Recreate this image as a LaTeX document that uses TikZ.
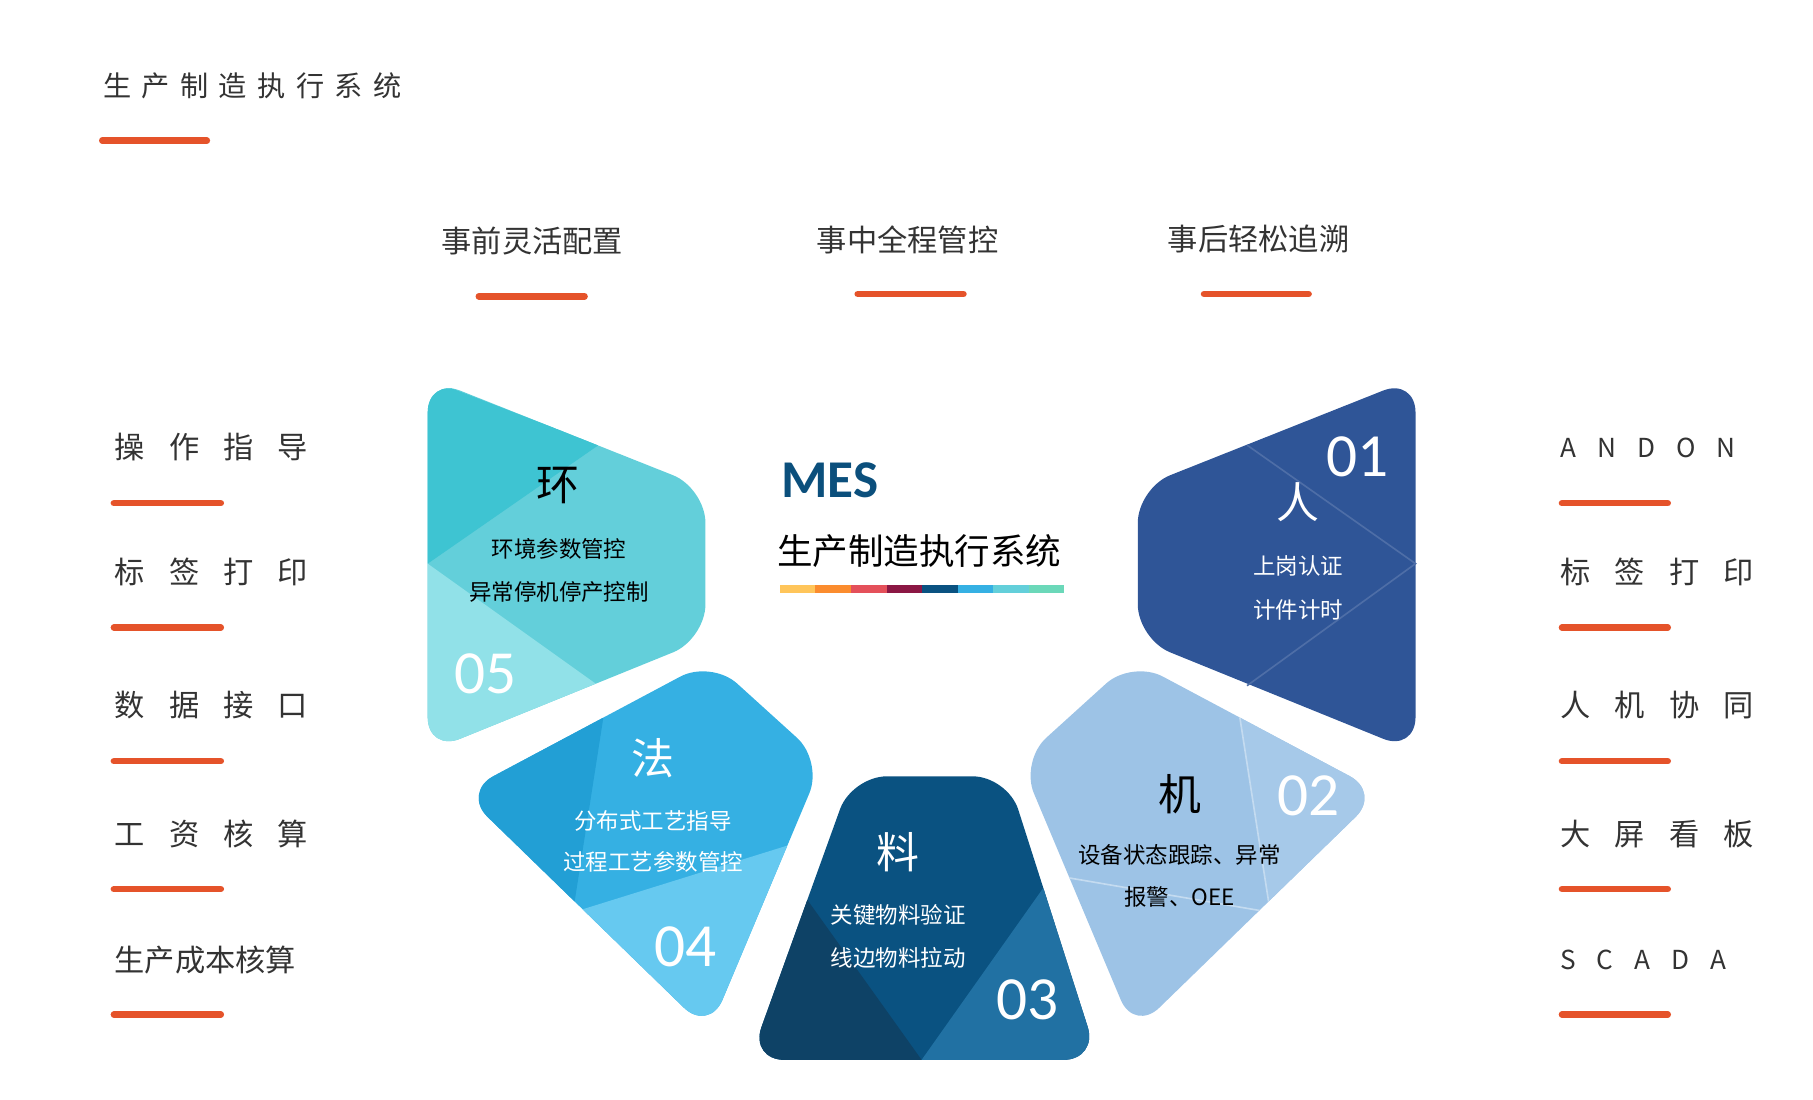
\documentclass[tikz,border=0pt]{standalone}
\usepackage{fontspec}
\setmainfont{Noto Sans CJK SC}
\newfontfamily\spacedA[LetterSpace=80]{Noto Sans CJK SC}
\newfontfamily\spacedB[LetterSpace=37]{Noto Sans CJK SC}
\newfontfamily\numfont{Carlito}
\usetikzlibrary{positioning}
\definecolor{accent}{HTML}{E5532A}
\definecolor{txtgray}{HTML}{333333}
\definecolor{huanMain}{HTML}{63CFDA}
\definecolor{huanDark}{HTML}{3EC4D2}
\definecolor{huanLight}{HTML}{91E1E8}
\definecolor{renMain}{HTML}{2F5597}
\definecolor{faMain}{HTML}{35B0E3}
\definecolor{faDark}{HTML}{229FD5}
\definecolor{faLight}{HTML}{66C9F0}
\definecolor{liaoMain}{HTML}{0A5281}
\definecolor{liaoDark}{HTML}{0E4266}
\definecolor{liaoLight}{HTML}{2171A3}
\definecolor{jiMain}{HTML}{9DC3E6}
\definecolor{jiLight}{HTML}{A6C9E9}
\definecolor{mesblue}{HTML}{0B4F7C}
\begin{document}
\begin{tikzpicture}[x=0.01cm,y=-0.01cm,
  bar/.style={draw=accent,line width=1.6pt,line cap=round},
  head/.style={font=\fontsize{7.4}{8}\selectfont,text=txtgray},
  item/.style={font=\spacedA\fontsize{7.4}{8}\selectfont,text=txtgray,anchor=west,inner sep=0pt},
  big/.style={font=\fontsize{10.5}{11}\selectfont},
  small/.style={font=\fontsize{5.5}{6}\selectfont},
  num/.style={font=\numfont\fontsize{15}{15}\selectfont,text=white},
  tile/.style={rounded corners=0.3cm}]
\useasboundingbox (0,0) rectangle (1560,946);

% title
\node (title) [font=\spacedB\fontsize{6.9}{8}\selectfont,text=txtgray,anchor=west,inner sep=0pt] at (88,74) {生产制造执行系统};
\draw [bar] (88,121) -- (178,121);

% heads
\node (h1) [head] at (458,207) {事前灵活配置};
\node (h2) [head] at (781,206) {事中全程管控};
\node (h3) [head] at (1083,206) {事后轻松追溯};
\draw [bar] (412,255) -- (503,255);
\draw [bar] (738,253) -- (829,253);
\draw [bar] (1036,253) -- (1126,253);

% lists
\foreach \t/\y [count=\i] in {操作指导/385,标签打印/492,数据接口/607,工资核算/718} {
  \node (l\i) [item] at (98,\y) {\t};
}
\node (l5) [item,font=\fontsize{7.4}{8}\selectfont] at (98,826) {生产成本核算};
\node (r1) [item,font=\spacedA\fontsize{6.4}{8}\selectfont] at (1342,385) {ANDON};
\node (r5) [item,font=\spacedA\fontsize{6.4}{8}\selectfont] at (1342,826) {SCADA};
\foreach \t/\y [count=\i from 2] in {标签打印/492,人机协同/607,大屏看板/718} {
  \node (r\i) [item] at (1342,\y) {\t};
}
\foreach \y in {433,540,655,765,873} {
  \draw [bar] (98,\y) -- (190,\y);
  \draw [bar] (1344,\y) -- (1435,\y);
}

% 环
\begin{scope}
\clip [tile] (368,325) -- (607,420) -- (607,550) -- (368,647) -- cycle;
\fill [huanMain] (300,300) rectangle (700,700);
\fill [huanDark] (300,300) -- (515,383) -- (368,485) -- (300,485) -- cycle;
\fill [huanLight] (300,485) -- (368,485) -- (515,590) -- (600,700) -- (300,700) -- cycle;
\end{scope}
% 人
\fill [tile,renMain] (1218,325) -- (979,420) -- (979,550) -- (1218,647) -- cycle;
\draw [white!15!renMain,line width=0.4pt] (1073,383) -- (1218,485) -- (1073,590);
% 法
\begin{scope}
\clip [tile] (398,682) -- (612,568) -- (708,655) -- (610,888) -- cycle;
\fill [faMain] (350,500) rectangle (750,900);
\fill [faDark] (350,500) -- (525,580) -- (493,785) -- (520,900) -- (350,900) -- cycle;
\fill [faLight] (493,785) -- (750,705) -- (750,900) -- (493,900) -- cycle;
\end{scope}
% 料
\begin{scope}
\clip [tile] (733,668) -- (867,668) -- (945,912) -- (645,912) -- cycle;
\fill [liaoMain] (600,650) rectangle (1000,950);
\fill [liaoDark] (600,700) -- (688,765) -- (793,912) -- (600,950) -- cycle;
\fill [liaoLight] (1000,700) -- (897,765) -- (793,912) -- (1000,950) -- cycle;
\end{scope}
% 机
\begin{scope}
\clip [tile] (1188,682) -- (974,568) -- (878,655) -- (976,888) -- cycle;
\fill [jiMain] (850,500) rectangle (1250,900);
\fill [jiLight] (1061,580) -- (1093,785) -- (1250,800) -- (1250,500) -- cycle;
\draw [white!40!jiMain,line width=0.4pt] (1061,580) -- (1093,785) -- (900,752);
\end{scope}

% centre
\node (mes) [font=\numfont\bfseries\fontsize{13}{13}\selectfont,text=mesblue] at (714,413) {MES};
\node (sub) [font=\fontsize{8.7}{9}\selectfont] at (791,474) {生产制造执行系统};
\foreach \c [count=\i from 0] in {FFC55A,FB8C2E,E4505A,8B1744,0A5281,35B0E3,63CFDA,6BD8B9} {
  \definecolor{seg}{HTML}{\c}
  \fill [seg] (671+30.6*\i,503) rectangle (671+30.6*\i+30.6,510);
}

% tile texts
\node (t5) [big] at (480,418) {环};
\node (t5a) [small] at (481,472) {环境参数管控};
\node (t5b) [small] at (481,509) {异常停机停产控制};
\node (n5) [num] at (418,580) {05};
\node (t4) [big,text=white] at (562,652) {法};
\node (t4a) [small,text=white] at (562,706) {分布式工艺指导};
\node (t4b) [small,text=white] at (562,742) {过程工艺参数管控};
\node (n4) [num] at (590,815) {04};
\node (t3) [big,text=white] at (773,733) {料};
\node (t3a) [small,text=white] at (773,787) {关键物料验证};
\node (t3b) [small,text=white] at (773,824) {线边物料拉动};
\node (n3) [num] at (884,860) {03};
\node (t2) [big] at (1015,683) {机};
\node (t2a) [small] at (1015,736) {设备状态跟踪、异常};
\node (t2b) [small] at (1015,772) {报警、OEE};
\node (n2) [num] at (1126,685) {02};
\node (t1) [big,text=white] at (1117,432) {人};
\node (n1) [num] at (1168,393) {01};
\node (t1a) [small,text=white] at (1117,487) {上岗认证};
\node (t1b) [small,text=white] at (1117,525) {计件计时};
\end{tikzpicture}
\end{document}
